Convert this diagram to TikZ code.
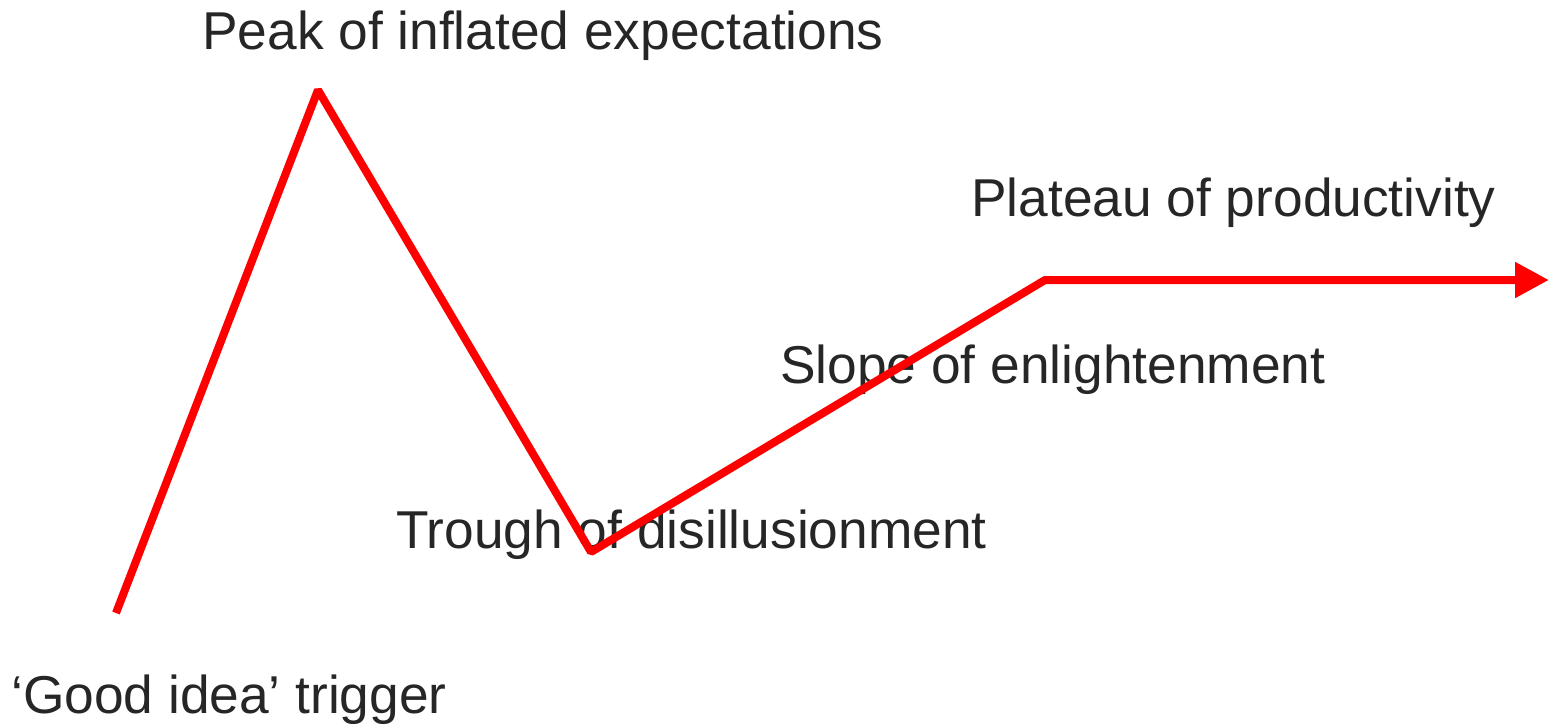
\documentclass[tikz,border=0pt]{standalone}
\usepackage{fontspec}
\setmainfont{Liberation Sans}
\usetikzlibrary{arrows.meta}
\definecolor{txt}{RGB}{38,38,38}
\definecolor{hype}{RGB}{255,0,0}
\begin{document}
\begin{tikzpicture}[x=1pt,y=-1pt,
  lbl/.style={anchor=base west,inner sep=0pt,text=txt,font=\fontsize{53.3}{60}\selectfont},
  curve/.style={draw=hype,line width=8pt,line join=bevel}]
\useasboundingbox (0,0) rectangle (1549,724);
\node[lbl] (lpeak) at (202,49) {Peak of inflated expectations};
\node[lbl] (lplat) at (971,216) {Plateau of productivity};
\node[lbl] (lslope) at (780,383) {Slope of enlightenment};
\node[lbl] (ltrough) at (396,548) {Trough of disillusionment};
\node[lbl] (lgood) at (11,713) {‘Good idea’ trigger};
\coordinate (start) at (116,613);
\coordinate (peak) at (318,90);
\coordinate (trough) at (591,552);
\coordinate (plateau) at (1045,280);
\coordinate (end) at (1549,280);
\draw[curve,-{Triangle[length=34pt,width=34pt]}] (start) -- (peak) -- (trough) -- (plateau) -- (end);
\end{tikzpicture}
\end{document}
